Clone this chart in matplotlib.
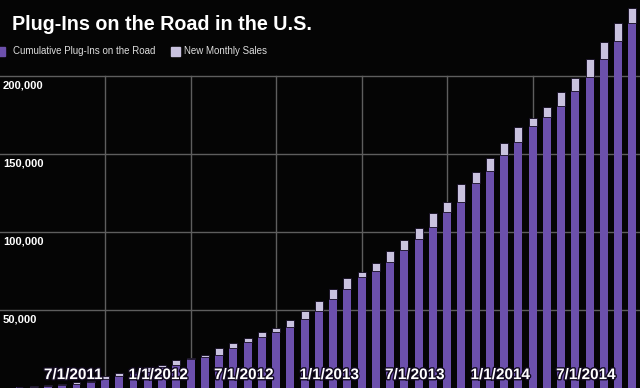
import pandas as pd
import matplotlib
matplotlib.use('Agg')
import matplotlib.pyplot as plt
import matplotlib.patheffects as pe
from matplotlib.patches import Rectangle
from matplotlib import font_manager

# Months shown, Jan 2011 .. Aug 2014
months = pd.date_range('2011-01-01', '2014-08-01', freq='MS')

# Cumulative plug-ins on the road before the month's sales (purple part)
cumulative = [
    400, 850, 1300, 1900, 2600, 4000, 5500, 7700, 9400, 10300, 13200, 14700,
    18400, 19700, 21200, 25800, 29700, 32900, 36100, 39300, 44000, 49600, 56900, 63300,
    71000, 75000, 81000, 88500, 95500, 103400, 112600, 119400, 131400, 139300, 149400, 157900,
    167900, 173500, 180800, 190400, 199200, 210900, 222600, 234200,
]
# Totals including the new monthly sales (top of light part)
totals = [
    850, 1300, 1900, 2600, 4000, 4600, 7700, 9400, 10300, 13200, 14700, 17900,
    19400, 21200, 25400, 29000, 32200, 36100, 38700, 43600, 49400, 56000, 63300, 70700,
    74600, 80300, 87800, 94900, 102800, 112000, 119000, 130800, 138500, 147400, 157200, 167500,
    173300, 180300, 189700, 198500, 210700, 222000, 233800, 243400,
]
new_sales = [t - c for t, c in zip(totals, cumulative)]

tick_labels = ['7/1/2011', '1/1/2012', '7/1/2012', '1/1/2013',
               '7/1/2013', '1/1/2014', '7/1/2014']
y_ticks = [50000, 100000, 150000, 200000]

PURPLE = '#6c50ac'
LIGHT = '#c9c2df'
BG = '#050505'
GRID = '#5e5e5e'

names = {f.name for f in font_manager.fontManager.ttflist}
narrow = 'Liberation Sans Narrow' if 'Liberation Sans Narrow' in names else None
plt.rcParams['font.family'] = ['Liberation Sans', 'DejaVu Sans']

fig = plt.figure(figsize=(6.4, 3.88), dpi=100, facecolor=BG)
ax = fig.add_axes([0, 0, 1, 1], facecolor=BG)

x = list(range(len(months)))
ax.set_xlim(-1.368, 43.54)
ax.set_ylim(0, 248700)

# grid
for v in y_ticks:
    ax.axhline(v, color=GRID, lw=1, zorder=1)
    ax.text(-1.16, v - 2600, f'{v:,}', color='white', fontsize=8,
            fontweight='bold', ha='left', va='top', zorder=5)

tick_pos = []
for lab in tick_labels:
    d = pd.to_datetime(lab, format='%m/%d/%Y')
    tick_pos.append(list(months).index(d))
for p in tick_pos:
    ax.plot([p, p], [0, 200000], color=GRID, lw=1, zorder=1)

ax.bar(x, cumulative, width=0.56, color=PURPLE, zorder=2)
ax.bar(x, new_sales, bottom=cumulative, width=0.56, color=LIGHT,
       edgecolor='#120a20', linewidth=0.6, zorder=2)

for p, lab in zip(tick_pos, tick_labels):
    ax.text(p - 0.18, 8300, lab, color='white', fontsize=11, fontweight='bold',
            ha='right', va='center', zorder=6,
            path_effects=[pe.withStroke(linewidth=2, foreground='#120a20')])

ax.set_axis_off()

# title and legend
title_kw = dict(color='white', fontweight='bold', ha='left', va='center')
if narrow:
    title_kw.update(family=narrow, fontsize=17)
else:
    title_kw.update(fontsize=14.2)
fig.text(12 / 640, 1 - 25 / 388, 'Plug-Ins on the Road in the U.S.', **title_kw)

leg_kw = dict(color='#dddddd', ha='left', va='center')
if narrow:
    leg_kw.update(family=narrow, fontsize=8.4)
else:
    leg_kw.update(fontsize=7)
fig.patches.append(Rectangle((-4 / 640, 1 - 56 / 388), 9 / 640, 9 / 388,
                             transform=fig.transFigure, color=PURPLE))
fig.text(13 / 640, 1 - 51.5 / 388, 'Cumulative Plug-Ins on the Road', **leg_kw)
fig.patches.append(Rectangle((171 / 640, 1 - 56 / 388), 9 / 640, 9 / 388,
                             transform=fig.transFigure, color=LIGHT))
fig.text(184 / 640, 1 - 51.5 / 388, 'New Monthly Sales', **leg_kw)

fig.savefig('out.png', dpi=100, facecolor=BG)
